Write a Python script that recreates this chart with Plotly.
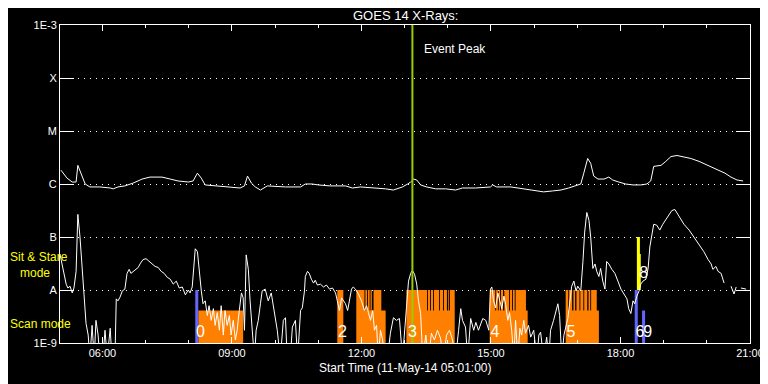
import plotly.graph_objects as go

# ---------------- data (time in decimal hours UT, 11-May-2014; flux in W/m^2) ----------------
# GOES 14 long channel (1-8 A)
long_t = [5.04, 5.18, 5.30, 5.39, 5.43, 5.50, 5.60, 5.71, 5.94, 6.18,
          6.25, 6.36, 6.52, 6.71, 6.92, 7.10, 7.38, 7.57, 7.75, 7.99,
          8.10, 8.20, 8.29, 8.38, 8.61, 8.96, 9.19, 9.29, 9.36, 9.45,
          9.54, 9.66, 9.82, 10.24, 10.59, 10.70, 10.86, 11.00, 11.28, 11.63,
          11.79, 11.98, 12.33, 12.56, 12.74, 12.95, 13.07, 13.14, 13.21, 13.28,
          13.37, 13.51, 13.72, 13.95, 14.18, 14.34, 14.64, 14.87, 14.99, 15.04,
          15.13, 15.46, 15.80, 16.04, 16.22, 16.43, 16.62, 16.80, 16.97, 17.08,
          17.15, 17.24, 17.31, 17.38, 17.48, 17.62, 17.73, 17.82, 17.96, 18.12,
          18.29, 18.47, 18.61, 18.70, 18.77, 18.94, 19.05, 19.17, 19.31, 19.45,
          19.63, 19.82, 19.98, 20.14, 20.28, 20.42, 20.56, 20.70, 20.84]
long_flux = [1.82e-6, 1.29e-6, 1.09e-6, 1.09e-6, 2.25e-6, 1.60e-6, 1.0e-6, 8.8e-7, 8.8e-7, 8.4e-7,
             8.1e-7, 8.8e-7, 9.2e-7, 1.04e-6, 1.24e-6, 1.35e-6, 1.35e-6, 1.24e-6, 1.14e-6, 1.09e-6,
             1.14e-6, 1.60e-6, 1.29e-6, 9.6e-7, 9.2e-7, 8.8e-7, 8.4e-7, 9.2e-7, 1.41e-6, 1.04e-6,
             8.8e-7, 7.7e-7, 9.2e-7, 8.8e-7, 8.8e-7, 1.0e-6, 1.0e-6, 9.6e-7, 9.2e-7, 9.2e-7,
             8.4e-7, 8.8e-7, 8.4e-7, 8.1e-7, 7.7e-7, 8.8e-7, 1.0e-6, 1.09e-6, 1.24e-6, 1.19e-6,
             9.6e-7, 8.8e-7, 8.1e-7, 8.1e-7, 7.7e-7, 8.4e-7, 8.4e-7, 8.8e-7, 8.8e-7, 9.6e-7,
             8.8e-7, 8.8e-7, 8.1e-7, 7.4e-7, 7.1e-7, 7.4e-7, 7.7e-7, 8.4e-7, 9.2e-7, 1.0e-6,
             1.60e-6, 3.03e-6, 2.45e-6, 1.41e-6, 1.24e-6, 1.24e-6, 1.35e-6, 1.19e-6, 1.09e-6, 1.0e-6,
             9.6e-7, 9.6e-7, 1.0e-6, 1.14e-6, 2.15e-6, 2.25e-6, 2.67e-6, 3.30e-6, 3.45e-6, 3.30e-6,
             3.03e-6, 2.67e-6, 2.35e-6, 2.06e-6, 1.82e-6, 1.60e-6, 1.35e-6, 1.19e-6, 1.14e-6]

# GOES 14 short channel (0.5-4 A); None = data gap
short_t = [5.02, 5.06, 5.11, 5.16, 5.20, 5.25, 5.30, 5.34, 5.39, 5.43,
           5.48, 5.53, 5.57, 5.62, 5.67, 5.71, 5.76, 5.81, 5.85, 5.90,
           5.94, 6.01, 6.06, 6.11, 6.18, 6.22, 6.29, 6.32, 6.36, 6.41,
           6.46, 6.52, 6.57, 6.62, 6.66, 6.71, 6.78, 6.83, 6.87, 6.94,
           7.01, 7.08, 7.15, 7.22, 7.29, 7.36, 7.43, 7.50, 7.57, 7.64,
           7.71, 7.78, 7.85, 7.92, 7.99, 8.03, 8.08, 8.13, 8.15, 8.20,
           8.24, 8.29, 8.33, 8.38, 8.43, 8.47, 8.52, 8.57, 8.61, 8.66,
           8.71, 8.75, 8.80, 8.84, 8.89, 8.94, 8.98, 9.03, 9.08, 9.12,
           9.17, 9.22, 9.26, 9.29, 9.33, 9.38, 9.42, 9.47, 9.52, 9.56,
           9.61, 9.66, 9.70, 9.77, 9.84, 9.91, 9.98, 10.05, 10.12, 10.19,
           10.24, 10.28, 10.35, 10.40, 10.47, 10.52, 10.59, 10.63, 10.68, 10.70,
           10.75, 10.79, 10.84, 10.89, 10.93, 10.98, 11.05, 11.12, 11.19, 11.26,
           11.33, 11.40, 11.44, 11.49, 11.54, 11.58, 11.63, 11.68, 11.72, 11.77,
           11.81, 11.86, 11.93, 12.00, 12.07, 12.12, 12.16, 12.21, 12.26, 12.30,
           12.35, 12.39, 12.44, 12.49, 12.53, 12.60, 12.67, 12.74, 12.81, 12.88,
           12.95, 13.02, 13.07, 13.09, 13.14, 13.18, 13.23, 13.28, 13.32, 13.37,
           13.42, 13.49, 13.55, 13.62, 13.69, 13.76, 13.83, 13.90, 13.97, 14.04,
           14.11, 14.18, 14.25, 14.30, 14.34, 14.41, 14.46, 14.53, 14.60, 14.65,
           14.71, 14.76, 14.81, 14.88, 14.95, 14.99, 15.02, 15.06, 15.11, 15.16,
           15.20, 15.25, 15.30, 15.34, 15.39, 15.43, 15.48, 15.53, 15.57, 15.62,
           15.67, 15.71, 15.76, 15.80, 15.87, 15.92, 15.99, 16.06, 16.11, 16.15,
           16.22, 16.29, 16.34, 16.38, 16.45, 16.50, 16.55, 16.59, 16.64, 16.69,
           16.73, 16.78, 16.83, 16.87, 16.92, 16.97, 17.01, 17.08, 17.13, 17.17,
           17.22, 17.27, 17.31, 17.36, 17.41, 17.45, 17.50, 17.54, 17.59, 17.64,
           17.68, 17.73, 17.80, 17.87, 17.94, 18.01, 18.08, 18.15, 18.19, 18.24,
           18.29, 18.33, 18.38, 18.43, 18.47, 18.52, 18.59, 18.64, 18.68, 18.73,
           18.77, 18.84, 18.91, 18.98, 19.05, 19.12, 19.19, 19.26, 19.35, 19.47,
           19.59, 19.70, 19.82, 19.93, 20.03, 20.10, 20.14, 20.21, 20.26, 20.33,
           20.40, None, 20.56, 20.63, 20.68, None, 20.79, 20.91]
short_flux = [4.6e-8, 3.1e-8, 1.8e-8, 1.29e-8, 1.09e-8, 1.18e-8, 8.8e-9, 1.09e-8, 2.25e-8, 2.67e-7,
              1.0e-7, 2.25e-8, 6.25e-9, 2.35e-9, 1.41e-9, 5e-10, 2.15e-9, 5e-10, 2.67e-9, 1.41e-9,
              5e-10, 5e-10, 1.74e-9, 5e-10, 1.9e-9, 5e-10, 5e-10, 6.8e-9, 6.25e-9, 7.4e-9,
              9.6e-9, 1.04e-8, 2.06e-8, 2.45e-8, 2.06e-8, 2.25e-8, 2.45e-8, 2.67e-8, 3.1e-8, 3.75e-8,
              3.9e-8, 3.45e-8, 3.1e-8, 2.78e-8, 2.67e-8, 2.25e-8, 2.06e-8, 1.74e-8, 1.6e-8, 1.29e-8,
              1.47e-8, 1.09e-8, 1.14e-8, 8.1e-9, 1.0e-8, 8.8e-9, 1.14e-8, 3.45e-8, 6.0e-8, 5.3e-8,
              2.25e-8, 9.6e-9, 5.5e-9, 6.25e-9, 3.3e-9, 5.05e-9, 2.67e-9, 4.45e-9, 2.15e-9, 3.75e-9,
              1.74e-9, 5.05e-9, 1.41e-9, 4.1e-9, 2.15e-9, 3.3e-9, 1.41e-9, 2.67e-9, 1.14e-9, 1.74e-9,
              4.1e-9, 8.8e-9, 7.1e-9, 1.74e-9, 4.6e-8, 2.45e-8, 6.25e-9, 2.15e-9, 5e-10, 1.74e-9,
              2.67e-9, 5.5e-9, 9.6e-9, 1.04e-8, 6.25e-9, 8.8e-9, 4.1e-9, 1.74e-9, 5e-10, 2.67e-9,
              3.0e-9, 5e-10, 5e-10, 2.0e-9, 2.67e-9, 5e-10, 4.1e-9, 4.6e-9, 9.6e-9, 1.8e-8,
              2.25e-8, 2.06e-8, 1.6e-8, 1.35e-8, 1.53e-8, 1.24e-8, 1.29e-8, 1.14e-8, 1.24e-8, 1.04e-8,
              1.09e-8, 8.8e-9, 6.25e-9, 4.1e-9, 7.1e-9, 6.25e-9, 5.5e-9, 4.1e-9, 6.25e-9, 1.04e-8,
              1.14e-8, 1.04e-8, 8.4e-9, 6.25e-9, 4.1e-9, 5.05e-9, 3.75e-9, 2.67e-9, 4.1e-9, 1.74e-9,
              2.15e-9, 5e-10, 1.74e-9, 1.14e-9, 5e-10, 5e-10, 1.53e-9, 3.0e-9, 2.67e-9, 2.9e-9,
              5e-10, 3.3e-9, 1.09e-8, 1.47e-8, 2.06e-8, 2.35e-8, 1.98e-8, 1.29e-8, 6.25e-9, 3.6e-9,
              5e-10, 1.41e-9, 5e-10, 1.53e-9, 1.14e-9, 1.74e-9, 1.24e-9, 5e-10, 1.41e-9, 1.74e-9,
              1.14e-9, 5e-10, 1.74e-9, 4.45e-9, 2.67e-9, 2.0e-9, 5e-10, 2.9e-9, 1.74e-9, 2.45e-9,
              1.74e-9, 2.35e-9, 2.9e-9, 2.67e-9, 1.74e-9, 1.04e-8, 1.14e-8, 6.25e-9, 4.6e-9, 8.8e-9,
              6.25e-9, 4.45e-9, 7.7e-9, 5.3e-9, 2.67e-9, 3.75e-9, 1.74e-9, 5e-10, 2.67e-9, 5e-10,
              1.9e-9, 1.41e-9, 2.67e-9, 1.53e-9, 2.15e-9, 1.29e-9, 1.74e-9, 5e-10, 1.41e-9, 1.6e-9,
              5e-10, 1.29e-9, 5e-10, 1.74e-9, 2.67e-9, 4.1e-9, 5.5e-9, 3.3e-9, 5e-10, 1.41e-9,
              2.0e-9, 2.9e-9, 6.25e-9, 1.18e-8, 1.47e-8, 9.6e-9, 1.18e-8, 9.6e-9, 3.45e-8, 1.24e-7,
              2.9e-7, 2.06e-7, 1.0e-7, 2.55e-8, 3.1e-8, 2.25e-8, 1.8e-8, 2.55e-8, 1.47e-8, 1.04e-8,
              3.45e-8, 3.1e-8, 2.45e-8, 2.06e-8, 1.47e-8, 1.04e-8, 8.4e-9, 6.8e-9, 4.45e-9, 3.6e-9,
              6.25e-9, 5.5e-9, 7.7e-9, 9.6e-9, 1.29e-8, 1.47e-8, 1.6e-8, 2.55e-8, 6.5e-8, 1.24e-7,
              1.74e-7, 1.67e-7, 1.35e-7, 1.74e-7, 2.15e-7, 2.67e-7, 3.16e-7, 3.3e-7, 2.55e-7, 1.74e-7,
              1.35e-7, 1.0e-7, 7.1e-8, 5.3e-8, 3.75e-8, 3.1e-8, 2.45e-8, 2.78e-8, 2.25e-8, 2.06e-8,
              1.35e-8, None, 1.18e-8, 8.4e-9, 1.14e-8, None, 1.09e-8, 1.04e-8]

# Scan-mode observation blocks (orange): start hour, end hour, bar level
scan_start = [8.22,
              11.44, 11.88, 11.88, 12.09, 12.15, 12.21, 12.28,
              13.04, 13.04, 13.54, 13.61, 13.68, 13.82, 13.91, 14.01, 14.05,
              14.97, 14.97, 15.12, 15.18, 15.23, 15.31, 15.44, 15.51, 15.57,
              16.73, 16.73, 16.81, 16.91, 16.98, 17.07, 17.16, 17.26, 17.32]
scan_end = [9.26,
            11.58, 12.56, 12.07, 12.13, 12.19, 12.24, 12.46,
            14.16, 13.52, 13.59, 13.66, 13.80, 13.89, 13.98, 14.03, 14.16,
            15.85, 15.10, 15.16, 15.21, 15.28, 15.42, 15.49, 15.55, 15.81,
            17.50, 16.79, 16.88, 16.95, 17.05, 17.14, 17.23, 17.30, 17.45]
scan_top = [4.1e-9,
            1e-8, 4.1e-9, 1e-8, 1e-8, 1e-8, 1e-8, 1e-8,
            4.1e-9, 1e-8, 1e-8, 1e-8, 1e-8, 1e-8, 1e-8, 1e-8, 1e-8,
            4.1e-9, 1e-8, 1e-8, 1e-8, 1e-8, 1e-8, 1e-8, 1e-8, 1e-8,
            4.1e-9, 1e-8, 1e-8, 1e-8, 1e-8, 1e-8, 1e-8, 1e-8, 1e-8]

# Other observations (blue)
other_start = [8.15, 18.33, 18.50]
other_end = [8.22, 18.40, 18.57]
other_top = [1e-8, 1e-8, 4.1e-9]

# Sit & stare observations (yellow)
stare_start = [18.38, 18.42]
stare_end = [18.45, 18.47]
stare_top = [1e-7, 4.8e-8]

# Observation numbers
obs_text = ["0", "2", "3", "4", "5", "6", "9", "8"]
obs_t = [8.27, 11.56, 13.18, 15.09, 16.85, 18.45, 18.63, 18.54]
obs_flux = [1.53e-9, 1.53e-9, 1.53e-9, 1.53e-9, 1.53e-9, 1.53e-9, 1.53e-9, 1.98e-8]

event_peak_t = 13.18

time_ticks = [6, 9, 12, 15, 18, 21]
time_labels = ["06:00", "09:00", "12:00", "15:00", "18:00", "21:00"]
minor_ticks = [h for h in range(6, 22) if h % 3 != 0]

class_vals = [1e-3, 1e-4, 1e-5, 1e-6, 1e-7, 1e-8, 1e-9]
class_labels = ["1E-3", "X", "M", "C", "B", "A", "1E-9"]

# ---------------- figure ----------------
FONT = "Liberation Sans"
FLOOR = 1e-9
ORANGE = "#ff8000"
BLUE = "#6464ff"
YELLOW = "#ffff00"
GREEN = "#99cc00"

# the page body has an 8 px default margin; margins below compensate for it
PAGE_OFF = 8
M_L, M_T = 60 - PAGE_OFF, 19 - PAGE_OFF
PLOT_W, PLOT_H = 690, 324


def rects(starts, ends, tops, base):
    xs, ys = [], []
    for s, e, t in zip(starts, ends, tops):
        xs += [s, s, e, e, s, None]
        ys += [base, t, t, base, base, None]
    return xs, ys


fig = go.Figure()

for st, en, tp, base, col in [
    (scan_start, scan_end, scan_top, FLOOR, ORANGE),
    (other_start, other_end, other_top, FLOOR, BLUE),
    (stare_start, stare_end, stare_top, 1e-8, YELLOW),
]:
    xs, ys = rects(st, en, tp, base)
    fig.add_trace(go.Scatter(x=xs, y=ys, mode="lines", fill="toself",
                             fillcolor=col, line=dict(width=0, color=col),
                             hoverinfo="skip"))

fig.add_trace(go.Scatter(x=long_t, y=long_flux, mode="lines",
                         line=dict(color="white", width=1)))
fig.add_trace(go.Scatter(x=short_t, y=short_flux, mode="lines", connectgaps=False,
                         line=dict(color="white", width=1)))

fig.add_trace(go.Scatter(x=[event_peak_t, event_peak_t], y=[FLOOR, 1e-3], mode="lines",
                         line=dict(color=GREEN, width=2)))

fig.add_trace(go.Scatter(x=obs_t, y=obs_flux, mode="text", text=obs_text,
                         textposition="middle center",
                         textfont=dict(color="white", size=16, family=FONT)))


def py(px):
    """page pixel row -> paper fraction"""
    return (19 + PLOT_H - px) / PLOT_H


annotations = [
    dict(text="GOES 14 X-Rays:", x=0.5, y=1, xref="paper", yref="paper",
         yshift=10, yanchor="middle", showarrow=False,
         font=dict(color="white", size=13, family=FONT)),
    dict(text="Start Time (11-May-14 05:01:00)", x=0.5, y=0, xref="paper", yref="paper",
         yshift=-25, yanchor="middle", showarrow=False,
         font=dict(color="white", size=12, family=FONT)),
    dict(text="Event Peak", x=event_peak_t, y=py(43), xref="x", yref="paper",
         xshift=10, xanchor="left", yanchor="middle", showarrow=False,
         font=dict(color="white", size=12, family=FONT)),
    dict(text="Sit & Stare<br>&nbsp;&nbsp;&nbsp;mode", x=0, y=py(264), xref="paper", yref="paper",
         xshift=-M_L, xanchor="left", yanchor="middle", align="left", showarrow=False,
         font=dict(color=YELLOW, size=12, family=FONT)),
    dict(text="Scan mode", x=0, y=py(324), xref="paper", yref="paper",
         xshift=-M_L, xanchor="left", yanchor="middle", showarrow=False,
         font=dict(color=YELLOW, size=12, family=FONT)),
]

fig.update_layout(
    width=768, height=384,
    margin=dict(l=M_L, r=768 - M_L - PLOT_W, t=M_T, b=384 - M_T - PLOT_H),
    paper_bgcolor="black", plot_bgcolor="black",
    showlegend=False,
    annotations=annotations,
    xaxis=dict(range=[5.017, 21.0], tickmode="array", tickvals=time_ticks, ticktext=time_labels,
               ticks="inside", ticklen=6, tickcolor="white", tickwidth=1,
               showline=True, linecolor="white", linewidth=1, mirror="allticks",
               showgrid=False, zeroline=False,
               tickfont=dict(color="white", size=11, family=FONT),
               minor=dict(tickmode="array", tickvals=minor_ticks, ticks="inside", ticklen=3,
                          tickcolor="white", showgrid=False)),
    yaxis=dict(type="log", range=[-9, -3], tickmode="array", tickvals=class_vals,
               ticktext=class_labels, ticks="inside", ticklen=14, tickcolor="white",
               showline=True, linecolor="white", linewidth=1, mirror="allticks",
               showgrid=True, gridcolor="white", gridwidth=1, griddash="1px,5px",
               zeroline=False, tickfont=dict(color="white", size=11, family=FONT)),
)

fig.write_html("out.html")
